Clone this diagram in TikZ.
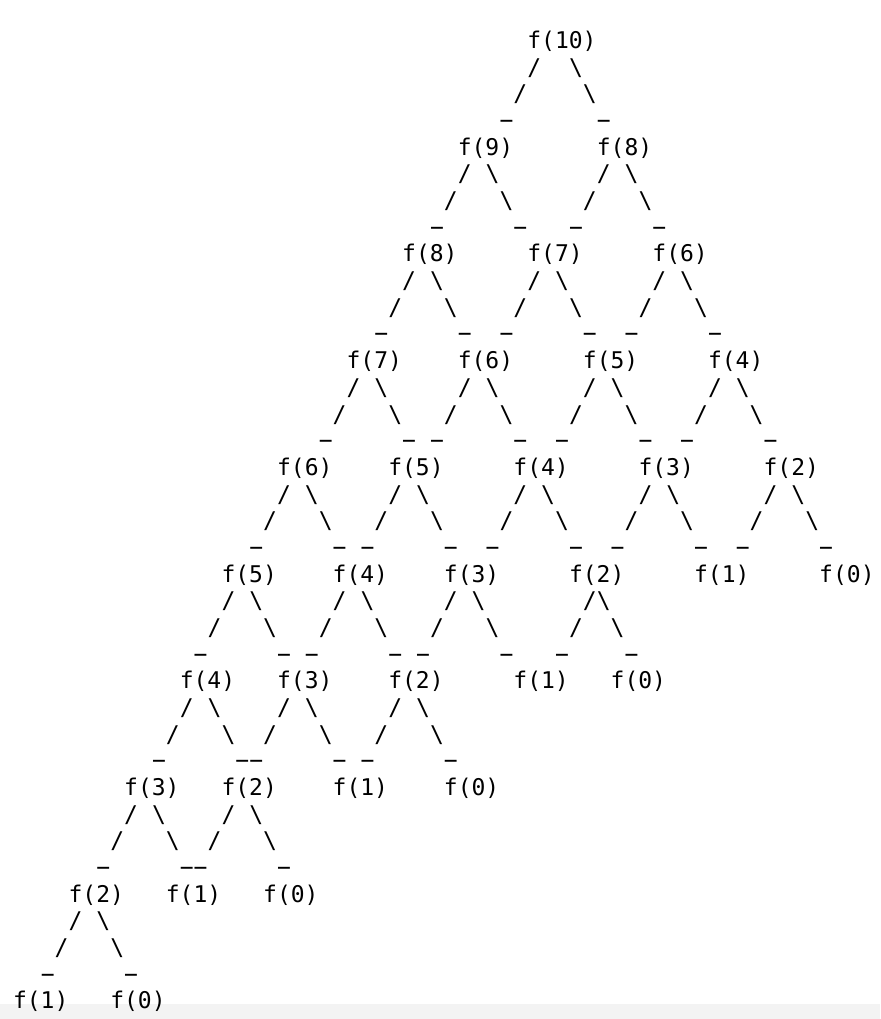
\documentclass[tikz,border=0pt]{standalone}
\usepackage{fontspec}
\newfontfamily\asciifont{DejaVu Sans Mono}
\definecolor{bandgray}{HTML}{F3F3F3}
\def\cw{13.9}
\def\sx{13}
\def\lh{26.68}
\def\by{48.5}
\tikzset{txt/.style={font=\asciifont\fontsize{23}{23}\selectfont, inner sep=0pt, outer sep=0pt, anchor=base west, text=black}}
% a name on level #3 at column #2
\newcommand\asciiname[4]{\node[txt] (#1) at ({\sx+\cw*(#2)},{\by+\lh*(4*(#3))}) {#4};}
% one character at column #2, text row #3
\newcommand\asciichar[4]{\node[txt] (#1) at ({\sx+\cw*(#2)},{\by+\lh*(#3)}) {#4};}
\newcommand\asciidash{\char"2212\relax}
% the branch drawn under a name: #1 id, #2 column, #3 level, #4 extra width (1 for f(10))
\newcommand\asciifork[4]{%
  \asciichar{#1-a}{#2}{4*(#3)+1}{/}
  \asciichar{#1-b}{#2+2+#4}{4*(#3)+1}{\textbackslash}
  \asciichar{#1-c}{#2-1}{4*(#3)+2}{/}
  \asciichar{#1-d}{#2+3+#4}{4*(#3)+2}{\textbackslash}
  \asciichar{#1-e}{#2-2}{4*(#3)+3}{\asciidash}
  \asciichar{#1-f}{#2+4+#4}{4*(#3)+3}{\asciidash}
}
\begin{document}
\begin{tikzpicture}[x=1pt,y=-1pt]
\useasboundingbox (0,0) rectangle (880,1019);
\fill[bandgray] (0,1004) rectangle (880,1019);
% level 0
\asciiname{a0}{37}{0}{f(10)} \asciifork{fa0}{37}{0}{1}
% level 1
\asciiname{b0}{32}{1}{f(9)} \asciifork{fb0}{32}{1}{0}
\asciiname{b1}{42}{1}{f(8)} \asciifork{fb1}{42}{1}{0}
% level 2
\asciiname{c0}{28}{2}{f(8)} \asciifork{fc0}{28}{2}{0}
\asciiname{c1}{37}{2}{f(7)} \asciifork{fc1}{37}{2}{0}
\asciiname{c2}{46}{2}{f(6)} \asciifork{fc2}{46}{2}{0}
% level 3
\asciiname{d0}{24}{3}{f(7)} \asciifork{fd0}{24}{3}{0}
\asciiname{d1}{32}{3}{f(6)} \asciifork{fd1}{32}{3}{0}
\asciiname{d2}{41}{3}{f(5)} \asciifork{fd2}{41}{3}{0}
\asciiname{d3}{50}{3}{f(4)} \asciifork{fd3}{50}{3}{0}
% level 4
\asciiname{e0}{19}{4}{f(6)} \asciifork{fe0}{19}{4}{0}
\asciiname{e1}{27}{4}{f(5)} \asciifork{fe1}{27}{4}{0}
\asciiname{e2}{36}{4}{f(4)} \asciifork{fe2}{36}{4}{0}
\asciiname{e3}{45}{4}{f(3)} \asciifork{fe3}{45}{4}{0}
\asciiname{e4}{54}{4}{f(2)} \asciifork{fe4}{54}{4}{0}
% level 5
\asciiname{g0}{15}{5}{f(5)} \asciifork{fg0}{15}{5}{0}
\asciiname{g1}{23}{5}{f(4)} \asciifork{fg1}{23}{5}{0}
\asciiname{g2}{31}{5}{f(3)} \asciifork{fg2}{31}{5}{0}
\asciiname{g3}{40}{5}{f(2)}
\asciichar{fg3-a}{41}{21}{/}
\asciichar{fg3-b}{42}{21}{\textbackslash}
\asciichar{fg3-c}{40}{22}{/}
\asciichar{fg3-d}{43}{22}{\textbackslash}
\asciichar{fg3-e}{39}{23}{\asciidash}
\asciichar{fg3-f}{44}{23}{\asciidash}
\asciiname{g4}{49}{5}{f(1)}
\asciiname{g5}{58}{5}{f(0)}
% level 6
\asciiname{h0}{12}{6}{f(4)} \asciifork{fh0}{12}{6}{0}
\asciiname{h1}{19}{6}{f(3)} \asciifork{fh1}{19}{6}{0}
\asciiname{h2}{27}{6}{f(2)} \asciifork{fh2}{27}{6}{0}
\asciiname{h3}{36}{6}{f(1)}
\asciiname{h4}{43}{6}{f(0)}
% level 7
\asciiname{i0}{8}{7}{f(3)} \asciifork{fi0}{8}{7}{0}
\asciiname{i1}{15}{7}{f(2)} \asciifork{fi1}{15}{7}{0}
\asciiname{i2}{23}{7}{f(1)}
\asciiname{i3}{31}{7}{f(0)}
% level 8
\asciiname{j0}{4}{8}{f(2)} \asciifork{fj0}{4}{8}{0}
\asciiname{j1}{11}{8}{f(1)}
\asciiname{j2}{18}{8}{f(0)}
% level 9
\asciiname{k0}{0}{9}{f(1)}
\asciiname{k1}{7}{9}{f(0)}
\end{tikzpicture}
\end{document}
